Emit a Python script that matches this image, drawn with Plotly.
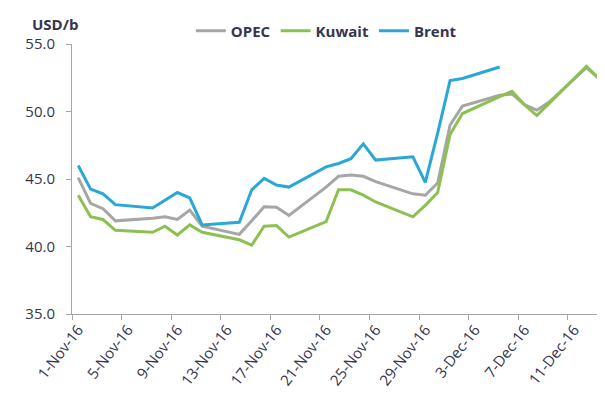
import plotly.graph_objects as go

dates = ["2016-11-01", "2016-11-02", "2016-11-03", "2016-11-04",
         "2016-11-07", "2016-11-08", "2016-11-09", "2016-11-10", "2016-11-11",
         "2016-11-14", "2016-11-15", "2016-11-16", "2016-11-17", "2016-11-18",
         "2016-11-21", "2016-11-22", "2016-11-23", "2016-11-24", "2016-11-25",
         "2016-11-28", "2016-11-29", "2016-11-30", "2016-12-01", "2016-12-02",
         "2016-12-05", "2016-12-06", "2016-12-07", "2016-12-08", "2016-12-09",
         "2016-12-12", "2016-12-13"]

opec = [45.1, 43.2, 42.8, 41.9,
        42.1, 42.2, 42.0, 42.7, 41.5,
        40.9, 41.9, 42.95, 42.9, 42.3,
        44.4, 45.2, 45.3, 45.2, 44.8,
        43.9, 43.8, 44.7, 49.0, 50.4,
        51.2, 51.3, 50.5, 50.1, 50.7,
        53.25, 52.45]

kuwait = [43.8, 42.2, 42.0, 41.2,
          41.05, 41.5, 40.85, 41.6, 41.05,
          40.5, 40.1, 41.5, 41.55, 40.7,
          41.85, 44.2, 44.2, 43.8, 43.3,
          42.2, 43.05, 44.0, 48.3, 49.85,
          51.1, 51.5, 50.5, 49.7, 50.6,
          53.35, 52.45]

brent = [46.0, 44.25, 43.9, 43.1,
         42.85, 43.4, 44.0, 43.6, 41.6,
         41.8, 44.2, 45.05, 44.55, 44.4,
         45.9, 46.15, 46.5, 47.6, 46.4,
         46.65, 44.75, 48.4, 52.3, 52.45,
         53.3]

series_names = ["OPEC", "Kuwait", "Brent"]
series_colors = ["#a6a6a6", "#8cc152", "#29a8d8"]

text_color = "#35354f"
axis_color = "#a6a6a6"

fig = go.Figure()
for name, vals, col in zip(series_names, [opec, kuwait, brent], series_colors):
    fig.add_trace(go.Scatter(
        x=dates[:len(vals)], y=vals, name=name, mode="lines",
        line=dict(color=col, width=3),
    ))

DAY = 86400000
fig.update_layout(
    width=597, height=392,
    margin=dict(l=64, r=0, t=36, b=86, autoexpand=False),
    paper_bgcolor="white", plot_bgcolor="white",
    font=dict(family="Open Sans", size=14, color=text_color),
    showlegend=True,
    legend=dict(orientation="h", x=0.223, xanchor="left", y=1.048, yanchor="middle",
                font=dict(family="Open Sans", size=15, color=text_color, weight="bold"),
                bgcolor="rgba(0,0,0,0)", itemwidth=30, tracegroupgap=0),
    xaxis=dict(
        type="date",
        range=["2016-10-31 12:00", "2016-12-13 12:00"],
        tickmode="linear", tick0="2016-11-01", dtick=4 * DAY,
        tickformat="%-d-%b-%y", tickangle=-52,
        ticks="", showgrid=False, zeroline=False,
        showline=True, linecolor=axis_color, linewidth=1,
        tickfont=dict(size=15, color=text_color),
        minor=dict(ticks="outside", tick0="2016-10-31 12:00", dtick=4 * DAY,
                   ticklen=5, tickcolor=axis_color, showgrid=False),
    ),
    yaxis=dict(
        range=[35, 55], tickmode="linear", tick0=35, dtick=5,
        tickformat=".1f", ticks="outside", ticklen=5, tickcolor=axis_color,
        ticklabelstandoff=8,
        showgrid=False, zeroline=False,
        showline=True, linecolor=axis_color, linewidth=1,
        tickfont=dict(size=15, color=text_color),
    ),
    annotations=[dict(
        text="<b>USD/b</b>", xref="paper", yref="paper",
        x=-0.079, y=1.074, xanchor="left", yanchor="middle", showarrow=False,
        font=dict(family="Open Sans", size=15, color=text_color),
    )],
)

fig.write_html("out.html")
